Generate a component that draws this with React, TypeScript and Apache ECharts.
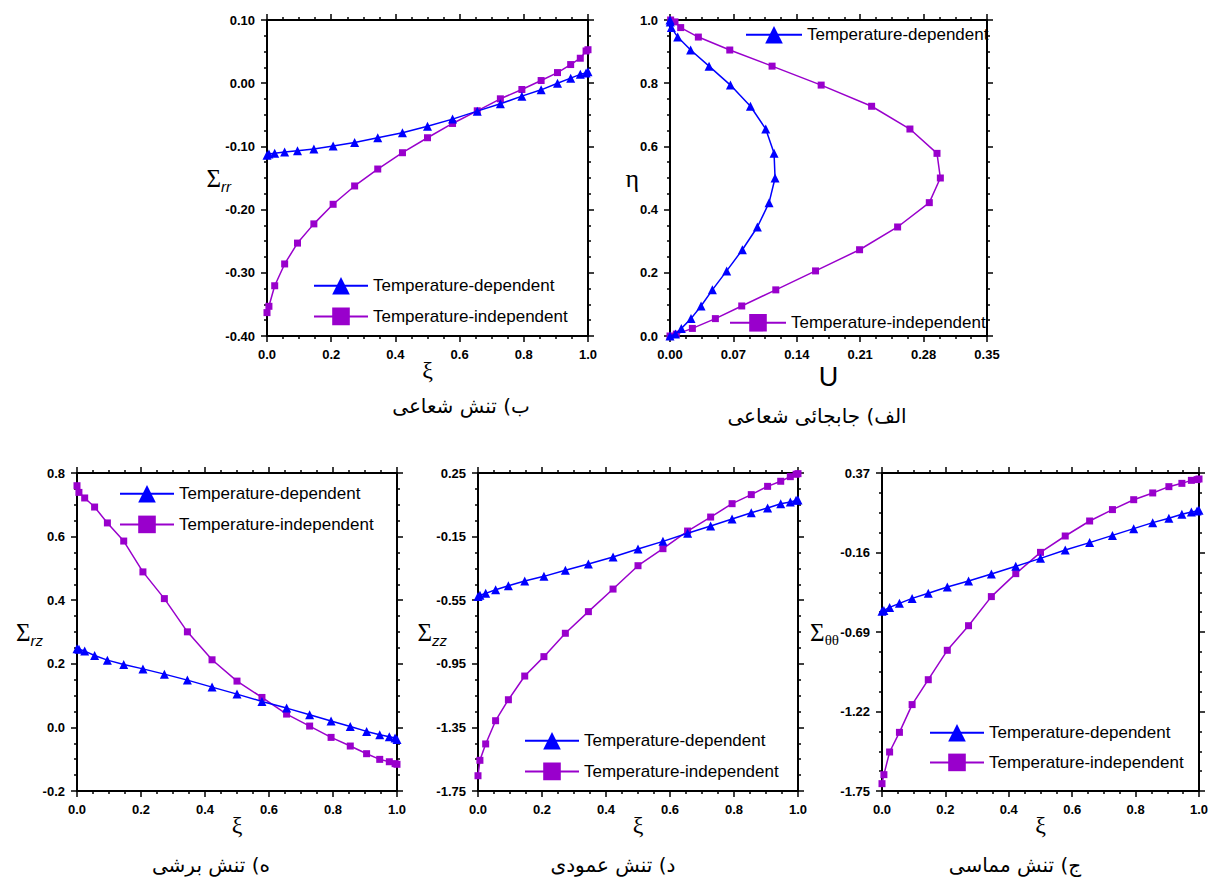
import React, { useEffect, useRef } from "react";
import * as echarts from "echarts";

// ---- data ----
const XI = [0, 0.006, 0.024, 0.055, 0.095, 0.146, 0.206, 0.273, 0.345, 0.422, 0.5, 0.578, 0.655, 0.727, 0.794, 0.854, 0.905, 0.946, 0.976, 0.994, 1.0];
const ETA = [0, 0.006, 0.024, 0.055, 0.095, 0.146, 0.206, 0.273, 0.345, 0.422, 0.5, 0.578, 0.655, 0.727, 0.794, 0.854, 0.905, 0.946, 0.976, 0.994, 1.0];

const RR_DEP = [-0.114, -0.112, -0.111, -0.109, -0.107, -0.104, -0.0995, -0.094, -0.0863, -0.0784, -0.068, -0.0568, -0.0442, -0.0326, -0.0205, -0.0105, 0.0, 0.008, 0.014, 0.016, 0.018];
const RR_IND = [-0.363, -0.353, -0.3205, -0.286, -0.253, -0.2226, -0.1916, -0.1626, -0.1358, -0.11, -0.0863, -0.0637, -0.0437, -0.0247, -0.01, 0.0042, 0.0168, 0.0295, 0.0395, 0.051, 0.053];

const U_DEP = [0, 0.006, 0.0125, 0.0232, 0.0343, 0.0468, 0.0626, 0.0799, 0.0965, 0.1094, 0.116, 0.1149, 0.1057, 0.0888, 0.0667, 0.0431, 0.0228, 0.0085, 0.0015, 0.0003, 0];
const U_IND = [0, 0.007, 0.0247, 0.0501, 0.0792, 0.1168, 0.1607, 0.2093, 0.2513, 0.2863, 0.2985, 0.2948, 0.2649, 0.2226, 0.1669, 0.1127, 0.066, 0.0313, 0.0118, 0.0055, 0.0007];

const RZ_DEP = [0.247, 0.246, 0.24, 0.226, 0.2115, 0.198, 0.184, 0.1675, 0.1487, 0.1267, 0.1047, 0.0817, 0.0607, 0.0398, 0.0199, 0.0031, -0.0126, -0.023, -0.0293, -0.0335, -0.0377];
const RZ_IND = [0.76, 0.739, 0.7215, 0.693, 0.643, 0.586, 0.489, 0.405, 0.3005, 0.2126, 0.1456, 0.0942, 0.0419, 0.0042, -0.0314, -0.0586, -0.0827, -0.1005, -0.108, -0.114, -0.116];

const ZZ_DEP = [-0.526, -0.519, -0.507, -0.484, -0.459, -0.429, -0.4, -0.362, -0.322, -0.278, -0.228, -0.18, -0.129, -0.083, -0.039, 0.0005, 0.03, 0.057, 0.068, 0.078, 0.08];
const ZZ_IND = [-1.654, -1.557, -1.454, -1.308, -1.176, -1.027, -0.905, -0.758, -0.622, -0.48, -0.333, -0.226, -0.115, -0.027, 0.057, 0.114, 0.166, 0.198, 0.227, 0.242, 0.246];

const TT_DEP = [-0.552, -0.546, -0.526, -0.499, -0.466, -0.432, -0.39, -0.35, -0.303, -0.252, -0.199, -0.143, -0.094, -0.046, -0.001, 0.039, 0.068, 0.095, 0.11, 0.117, 0.121];
const TT_IND = [-1.701, -1.641, -1.49, -1.359, -1.174, -1.008, -0.812, -0.648, -0.454, -0.301, -0.159, -0.05, 0.05, 0.126, 0.192, 0.237, 0.279, 0.301, 0.321, 0.326, 0.33];

// tick labels
const XI_TICKS = [0, 0.2, 0.4, 0.6, 0.8, 1.0];
const RR_TICKS = [-0.4, -0.3, -0.2, -0.1, 0, 0.1];
const U_TICKS = [0, 0.07, 0.14, 0.21, 0.28, 0.35];
const ETA_TICKS = [0, 0.2, 0.4, 0.6, 0.8, 1.0];
const RZ_TICKS = [-0.2, 0, 0.2, 0.4, 0.6, 0.8];
const ZZ_TICKS = [-1.75, -1.35, -0.95, -0.55, -0.15, 0.25];
const TT_TICKS = [-1.75, -1.22, -0.69, -0.16, 0.37];

const SERIES_DEP = "Temperature-dependent";
const SERIES_IND = "Temperature-independent";

const CAPTIONS = ["ب) تنش شعاعی", "الف) جابجائی شعاعی", "ه) تنش برشی", "د) تنش عمودی", "ج) تنش مماسی"];

// ---- styling ----
const BLUE = "#0000ff";
const PURPLE = "#9900cc";
const SANS = '"Liberation Sans", Arial, sans-serif';
const SERIF = '"Liberation Serif", "Times New Roman", serif';
const PERSIAN = '"DejaVu Sans", sans-serif';

function minors(ticks: number[]): number[] {
  const out: number[] = [];
  for (let i = 0; i < ticks.length - 1; i++) {
    const a = ticks[i], b = ticks[i + 1];
    for (let k = 1; k < 4; k++) out.push(a + ((b - a) * k) / 4);
  }
  return out;
}

function axes(kind: "x" | "y", gridIndex: number, ticks: number[], dec: number, name: any, nameGap: number, nameTextStyle: any) {
  const min = ticks[0];
  const max = ticks[ticks.length - 1];
  const mins = minors(ticks);
  const main = kind === "x" ? "bottom" : "left";
  const opp = kind === "x" ? "top" : "right";
  const base = {
    type: "value",
    gridIndex,
    min,
    max,
    splitLine: { show: false },
    axisPointer: { show: false },
  };
  const lineOn = { show: true, onZero: false, lineStyle: { color: "#000", width: 2 } };
  const lineOff = { show: false, onZero: false };
  return [
    {
      ...base,
      position: main,
      axisLine: lineOn,
      axisTick: { show: true, inside: false, length: 6, customValues: ticks, lineStyle: { color: "#000", width: 1.5 } },
      axisLabel: {
        show: true,
        customValues: ticks,
        margin: 12,
        color: "#000",
        fontWeight: "bold",
        fontSize: 13,
        fontFamily: SANS,
        formatter: (v: number) => v.toFixed(dec),
      },
      name,
      nameLocation: "middle",
      nameGap,
      nameRotate: 0,
      nameMoveOverlap: false,
      nameTextStyle,
    },
    {
      ...base,
      position: main,
      axisLine: lineOff,
      axisTick: { show: true, inside: false, length: 3, customValues: mins, lineStyle: { color: "#000", width: 1.5 } },
      axisLabel: { show: false },
    },
    {
      ...base,
      position: opp,
      axisLine: lineOn,
      axisTick: { show: true, inside: false, length: 6, customValues: ticks, lineStyle: { color: "#000", width: 1.5 } },
      axisLabel: { show: false },
    },
    {
      ...base,
      position: opp,
      axisLine: lineOff,
      axisTick: { show: true, inside: false, length: 3, customValues: mins, lineStyle: { color: "#000", width: 1.5 } },
      axisLabel: { show: false },
    },
  ];
}

const sigmaName = (sub: string, italicSans: boolean) => ({
  name: `{a|Σ}{b|${sub}}`,
  style: {
    rich: {
      a: { fontFamily: SERIF, fontSize: 25, color: "#000", lineHeight: 28 },
      b: {
        fontFamily: italicSans ? SANS : SERIF,
        fontStyle: italicSans ? "italic" : "normal",
        fontSize: 15,
        color: "#000",
        lineHeight: 16,
        padding: [16, 0, 0, 0],
      },
    },
  },
});

const xiStyle = { fontFamily: SERIF, fontSize: 24, color: "#000" };

export default function App() {
  const ref = useRef<HTMLDivElement>(null);
  useEffect(() => {
    if (!ref.current) return;
    const chart = echarts.init(ref.current, undefined, { renderer: "svg" });

    const grids = [
      { left: 267, top: 20, width: 321, height: 316 },
      { left: 670, top: 20, width: 317, height: 316 },
      { left: 77, top: 473, width: 320, height: 318 },
      { left: 478, top: 473, width: 320, height: 318 },
      { left: 882, top: 473, width: 317, height: 318 },
    ];

    const rr = sigmaName("rr", true);
    const rz = sigmaName("rz", true);
    const zz = sigmaName("zz", true);
    const tt = sigmaName("θθ", false);

    const xAxes: any[] = [
      ...axes("x", 0, XI_TICKS, 1, "ξ", 22, xiStyle),
      ...axes("x", 1, U_TICKS, 2, "U", 27, { fontFamily: SANS, fontSize: 27, color: "#000" }),
      ...axes("x", 2, XI_TICKS, 1, "ξ", 22, xiStyle),
      ...axes("x", 3, XI_TICKS, 1, "ξ", 22, xiStyle),
      ...axes("x", 4, XI_TICKS, 1, "ξ", 22, xiStyle),
    ];
    const yAxes: any[] = [
      ...axes("y", 0, RR_TICKS, 2, rr.name, 36, rr.style),
      ...axes("y", 1, ETA_TICKS, 1, "η", 31, { fontFamily: SERIF, fontSize: 26, color: "#000" }),
      ...axes("y", 2, RZ_TICKS, 1, rz.name, 34, rz.style),
      ...axes("y", 3, ZZ_TICKS, 2, zz.name, 31, zz.style),
      ...axes("y", 4, TT_TICKS, 2, tt.name, 43, tt.style),
    ];

    const mk = (name: string, gi: number, data: number[][], dep: boolean) => ({
      type: "line",
      name,
      xAxisIndex: gi * 4,
      yAxisIndex: gi * 4,
      data,
      symbol: dep ? "triangle" : "rect",
      symbolSize: dep ? 9 : 7,
      showSymbol: true,
      lineStyle: { color: dep ? BLUE : PURPLE, width: 1.5 },
      itemStyle: { color: dep ? BLUE : PURPLE },
      clip: false,
      z: dep ? 3 : 2,
    });
    const pair = (xs: number[], ys: number[]) => xs.map((x, i) => [x, ys[i]]);

    const series = [
      mk(SERIES_DEP, 0, pair(XI, RR_DEP), true),
      mk(SERIES_IND, 0, pair(XI, RR_IND), false),
      mk(SERIES_DEP, 1, pair(U_DEP, ETA), true),
      mk(SERIES_IND, 1, pair(U_IND, ETA), false),
      mk(SERIES_DEP, 2, pair(XI, RZ_DEP), true),
      mk(SERIES_IND, 2, pair(XI, RZ_IND), false),
      mk(SERIES_DEP, 3, pair(XI, ZZ_DEP), true),
      mk(SERIES_IND, 3, pair(XI, ZZ_IND), false),
      mk(SERIES_DEP, 4, pair(XI, TT_DEP), true),
      mk(SERIES_IND, 4, pair(XI, TT_IND), false),
    ];

    const legendBase = {
      orient: "vertical",
      padding: 0,
      itemWidth: 54,
      itemHeight: 22,
      itemGap: 13,
      selectedMode: false,
      textStyle: { fontFamily: SANS, fontSize: 17, color: "#000" },
    };
    const legends = [
      { ...legendBase, left: 313, top: 277, data: [SERIES_DEP, SERIES_IND] },
      { ...legendBase, left: 745, top: 26, itemWidth: 56, data: [SERIES_DEP] },
      { ...legendBase, left: 729, top: 314, itemWidth: 56, data: [SERIES_IND] },
      { ...legendBase, left: 119, top: 485, data: [SERIES_DEP, SERIES_IND] },
      { ...legendBase, left: 524, top: 732, data: [SERIES_DEP, SERIES_IND] },
      { ...legendBase, left: 929, top: 724, itemGap: 12, data: [SERIES_DEP, SERIES_IND] },
    ];

    const capPos = [
      [461, 406],
      [817, 416],
      [211, 865],
      [613, 865],
      [1015, 865],
    ];
    const graphics = CAPTIONS.map((t, i) => ({
      type: "text",
      x: capPos[i][0],
      y: capPos[i][1],
      style: {
        text: t,
        fill: "#000",
        fontSize: 20,
        fontFamily: PERSIAN,
        textAlign: "center",
        textVerticalAlign: "middle",
      },
    }));

    chart.setOption({
      animation: false,
      backgroundColor: "#ffffff",
      grid: grids,
      xAxis: xAxes,
      yAxis: yAxes,
      legend: legends,
      series,
      graphic: graphics,
    });
    return () => chart.dispose();
  }, []);
  return <div ref={ref} style={{ position: "fixed", left: 0, top: 0, width: 1214, height: 877 }} />;
}
